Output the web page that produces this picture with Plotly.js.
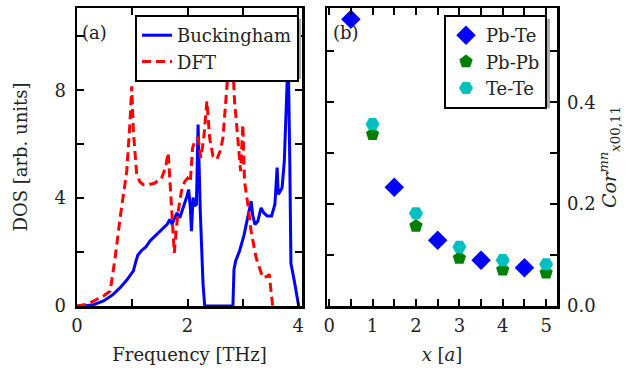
<!DOCTYPE html>
<html><head><meta charset="utf-8">
<script src="https://cdn.plot.ly/plotly-3.0.1.min.js"></script>
<style>html,body{margin:0;padding:0;background:#fff}#chart{width:641px;height:374px}</style>
</head><body><div id="chart"></div>
<script>
// ---- Panel (a): phonon DOS ----
const freqBuck = [0, 0.12, 0.3, 0.48, 0.65, 0.78, 0.9, 1.02, 1.06, 1.1, 1.16, 1.25, 1.32, 1.42, 1.5, 1.58, 1.63, 1.68, 1.72, 1.76, 1.81, 1.86, 1.91, 1.95, 1.99, 2.02, 2.05, 2.07, 2.1, 2.13, 2.16, 2.19, 2.21, 2.23, 2.28, 2.31, 2.82, 2.84, 2.87, 2.94, 3.02, 3.09, 3.15, 3.18, 3.22, 3.27, 3.33, 3.38, 3.44, 3.52, 3.58, 3.62, 3.64, 3.67, 3.71, 3.75, 3.79, 3.82, 3.85, 3.87, 3.93, 4.01];
const dosBuck  = [0, 0, 0.05, 0.19, 0.42, 0.68, 0.96, 1.30, 1.62, 1.88, 2.04, 2.20, 2.41, 2.62, 2.77, 2.93, 3.03, 3.21, 3.03, 3.24, 3.45, 3.27, 3.56, 3.77, 4.08, 4.32, 3.66, 2.77, 4.02, 3.71, 3.77, 6.73, 4.71, 3.51, 0.81, 0, 0, 1.36, 1.67, 2.04, 2.62, 3.24, 3.89, 3.35, 3.02, 3.14, 3.64, 3.45, 3.34, 3.34, 3.77, 5.13, 4.14, 4.24, 4.38, 5.37, 7.48, 9.4, 5.2, 1.57, 0.94, 0];
const freqDFT = [0, 0.18, 0.36, 0.48, 0.6, 0.69, 0.78, 0.84, 0.9, 0.96, 0.99, 1.02, 1.08, 1.14, 1.2, 1.3, 1.4, 1.53, 1.6, 1.65, 1.68, 1.71, 1.76, 1.8, 1.83, 1.89, 1.95, 2.0, 2.05, 2.09, 2.14, 2.19, 2.24, 2.29, 2.35, 2.4, 2.46, 2.53, 2.59, 2.64, 2.7, 2.74, 2.78, 2.82, 2.85, 2.91, 2.96, 3.0, 3.03, 3.09, 3.15, 3.24, 3.36, 3.44, 3.48, 3.5, 3.52, 3.54];
const dosDFT  = [0, 0.06, 0.25, 0.37, 0.55, 1.79, 3.27, 4.08, 5.0, 6.85, 8.15, 6.47, 4.88, 4.6, 4.5, 4.5, 4.55, 4.74, 5.13, 5.68, 4.71, 4.02, 1.97, 2.93, 3.51, 4.26, 4.62, 4.74, 4.6, 5.86, 6.17, 6.23, 5.49, 6.17, 7.59, 6.23, 5.55, 5.44, 5.75, 6.23, 7.71, 8.9, 9.2, 8.9, 7.59, 6.23, 5.0, 6.73, 4.62, 3.77, 2.77, 1.79, 1.05, 1.1, 1.17, 0.73, 0.19, 0];

// ---- Panel (b): correlation vs distance ----
const xPbTe = [0.5, 1.5, 2.5, 3.5, 4.5];
const corPbTe = [0.563, 0.233, 0.129, 0.090, 0.075];
const xPbPb = [1, 2, 3, 4, 5];
const corPbPb = [0.337, 0.157, 0.094, 0.071, 0.065];
const xTeTe = [1, 2, 3, 4, 5];
const corTeTe = [0.357, 0.182, 0.116, 0.090, 0.082];

// ---- tick labels ----
const freqTickVals = [0, 2, 4];
const dosTickVals = [0, 4, 8];
const xTickVals = [0, 1, 2, 3, 4, 5];
const corTickVals = [0, 0.2, 0.4];
const corTickText = ['0.0', '0.2', '0.4'];

const W = 641, H = 374;
const px = v => v / W;
const py = v => 1 - v / H;
const FONT = 'DejaVu Serif';
const FS = 18;
const TXT = '#222';

const traces = [
  {x: freqBuck, y: dosBuck, name: 'Buckingham', type: 'scatter', mode: 'lines',
   line: {color: '#0000ff', width: 3}, xaxis: 'x', yaxis: 'y', legend: 'legend'},
  {x: freqDFT, y: dosDFT, name: 'DFT', type: 'scatter', mode: 'lines',
   line: {color: '#ff0000', width: 3, dash: '9px,5px'}, xaxis: 'x', yaxis: 'y', legend: 'legend'},
  {x: xPbTe, y: corPbTe, name: 'Pb-Te', type: 'scatter', mode: 'markers',
   marker: {symbol: 'diamond', color: '#0000ff', size: 15}, xaxis: 'x2', yaxis: 'y2', legend: 'legend2'},
  {x: xPbPb, y: corPbPb, name: 'Pb-Pb', type: 'scatter', mode: 'markers',
   marker: {symbol: 'pentagon', color: '#008000', size: 14}, xaxis: 'x2', yaxis: 'y2', legend: 'legend2'},
  {x: xTeTe, y: corTeTe, name: 'Te-Te', type: 'scatter', mode: 'markers',
   marker: {symbol: 'hexagon2', color: '#00bfbf', size: 14}, xaxis: 'x2', yaxis: 'y2', legend: 'legend2'}
];

const axisCommon = {
  ticks: 'inside', ticklen: 7, tickwidth: 2, tickcolor: '#000',
  showline: true, linewidth: 2.5, linecolor: '#000', mirror: 'ticks',
  showgrid: false, zeroline: false, fixedrange: true,
  tickfont: {family: FONT, size: FS, color: TXT}
};
const minorCommon = {ticks: 'inside', ticklen: 7, tickwidth: 2, tickcolor: '#000', showgrid: false};

const layout = {
  width: W, height: H,
  margin: {l: 0, r: 0, t: 0, b: 0},
  paper_bgcolor: '#fff', plot_bgcolor: '#fff',
  font: {family: FONT, size: FS, color: TXT},
  showlegend: true,
  xaxis: Object.assign({}, axisCommon, {
    domain: [px(77), px(302)], range: [0, 4.07], anchor: 'y',
    tickvals: freqTickVals, ticklabelstandoff: 2,
    minor: Object.assign({dtick: 1, tick0: 0}, minorCommon),
    title: {text: 'Frequency [THz]', font: {family: FONT, size: FS, color: TXT}, standoff: 14}
  }),
  yaxis: Object.assign({}, axisCommon, {
    domain: [py(306), py(8)], range: [0, 11.05], anchor: 'x',
    tickvals: dosTickVals, ticklabelstandoff: 5,
    minor: Object.assign({dtick: 2, tick0: 0}, minorCommon),
    title: {text: 'DOS [arb. units]', font: {family: FONT, size: FS, color: TXT}, standoff: 22}
  }),
  xaxis2: Object.assign({}, axisCommon, {
    domain: [px(327), px(557)], range: [-0.05, 5.25], anchor: 'y2',
    tickvals: xTickVals, ticklabelstandoff: 2,
    minor: Object.assign({dtick: 0.5, tick0: 0}, minorCommon),
    title: {text: '<i>x</i> [<i>a</i>]', font: {family: FONT, size: FS, color: TXT}, standoff: 14}
  }),
  yaxis2: Object.assign({}, axisCommon, {
    domain: [py(306), py(8)], range: [0, 0.585], anchor: 'x2', side: 'right',
    tickvals: corTickVals, ticktext: corTickText, ticklabelstandoff: 4,
    minor: Object.assign({dtick: 0.1, tick0: 0}, minorCommon),
    title: {text: '<i>Cor</i><sup><i>mn</i></sup><sub><i>x</i>00,11</sub>', font: {family: FONT, size: 19, color: TXT}, standoff: 8}
  }),
  legend: {
    x: px(135), y: py(15), xanchor: 'left', yanchor: 'top',
    bgcolor: '#ffffff', bordercolor: '#000', borderwidth: 2,
    font: {family: FONT, size: FS, color: TXT}, itemwidth: 30
  },
  legend2: {
    x: px(444), y: py(15), xanchor: 'left', yanchor: 'top',
    bgcolor: '#ffffff', bordercolor: '#000', borderwidth: 2,
    font: {family: FONT, size: FS, color: TXT}, itemwidth: 30
  },
  shapes: [
    {type: 'rect', xref: 'paper', yref: 'paper', x0: px(139), x1: px(301), y0: py(79), y1: py(19),
     fillcolor: '#aaaaaa', line: {width: 0}, layer: 'above'},
    {type: 'rect', xref: 'paper', yref: 'paper', x0: px(448), x1: px(550), y0: py(108), y1: py(19),
     fillcolor: '#aaaaaa', line: {width: 0}, layer: 'above'}
  ],
  annotations: [
    {text: '(a)', xref: 'paper', yref: 'paper', x: px(80), y: py(32), xanchor: 'left', yanchor: 'middle',
     showarrow: false, font: {family: FONT, size: FS, color: TXT}},
    {text: '(b)', xref: 'paper', yref: 'paper', x: px(331), y: py(32), xanchor: 'left', yanchor: 'middle',
     showarrow: false, font: {family: FONT, size: FS, color: TXT}}
  ]
};

Plotly.newPlot('chart', traces, layout, {displayModeBar: false, staticPlot: true});
</script>
</body></html>
